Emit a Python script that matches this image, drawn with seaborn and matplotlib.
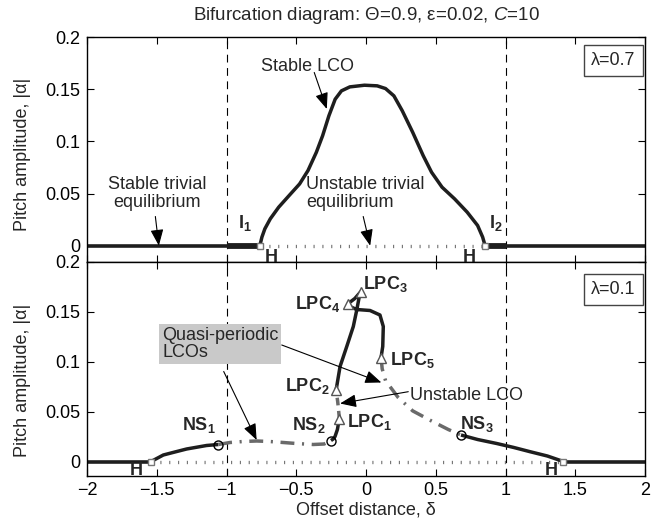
import matplotlib
matplotlib.use('Agg')
import matplotlib.pyplot as plt
import seaborn as sns

sns.set_style('ticks')
plt.rcParams['font.family'] = ['Liberation Sans', 'DejaVu Sans']
plt.rcParams['mathtext.fontset'] = 'custom'
plt.rcParams['mathtext.rm'] = 'Liberation Sans'
plt.rcParams['mathtext.it'] = 'Liberation Sans:italic'
plt.rcParams['mathtext.bf'] = 'Liberation Sans:bold'

# ---- top panel (lambda = 0.7) ----
top_stable_left = [-2.0, -0.761]
top_thick_left = [-1.0, -0.761]
top_stable_right = [0.854, 2.0]
top_thick_right = [0.854, 1.0]
top_unstable_trivial = [-0.761, 0.854]
top_hopf = [-0.761, 0.854]

lco_delta = [-0.761, -0.746, -0.725, -0.686, -0.626, -0.551, -0.476, -0.416, -0.356,
             -0.311, -0.266, -0.221, -0.176, -0.116, -0.011, 0.080, 0.140, 0.200,
             0.260, 0.335, 0.410, 0.470, 0.545, 0.635, 0.725, 0.800, 0.836, 0.854]
lco_amp = [0.000, 0.0083, 0.0162, 0.0258, 0.0369, 0.0481, 0.0592, 0.0720, 0.0895,
           0.1054, 0.1245, 0.1404, 0.1484, 0.1522, 0.1538, 0.1532, 0.1506, 0.1436,
           0.1293, 0.1086, 0.0863, 0.0704, 0.0561, 0.0449, 0.0322, 0.0194, 0.0083, 0.000]

# ---- bottom panel (lambda = 0.1) ----
bot_stable_left = [-2.0, -1.541]
bot_stable_right = [1.415, 2.0]
bot_unstable_trivial = [-1.541, 1.415]
bot_hopf = [-1.541, 1.415]

ns1_delta = [-1.541, -1.500, -1.453, -1.370, -1.286, -1.143, -1.059]
ns1_amp = [0.000, 0.003, 0.0065, 0.0095, 0.0125, 0.016, 0.017]

quasi_delta = [-1.059, -0.975, -0.880, -0.784, -0.690, -0.593, -0.500, -0.378, -0.300, -0.251]
quasi_amp = [0.017, 0.019, 0.020, 0.0205, 0.020, 0.019, 0.018, 0.017, 0.0175, 0.021]

ns2_delta = [-0.251, -0.235, -0.222, -0.205, -0.191]
ns2_amp = [0.021, 0.0225, 0.025, 0.032, 0.043]

lpc12_delta = [-0.191, -0.197, -0.203, -0.210, -0.215]
lpc12_amp = [0.043, 0.052, 0.060, 0.067, 0.0715]

upper_delta = [-0.215, -0.210, -0.186, -0.138, -0.091, -0.067, -0.048, -0.036,
               -0.080, -0.127, -0.115, -0.067, 0.029, 0.100, 0.124, 0.120, 0.108]
upper_amp = [0.0715, 0.075, 0.095, 0.115, 0.135, 0.151, 0.165, 0.170,
             0.163, 0.158, 0.155, 0.152, 0.151, 0.1465, 0.135, 0.115, 0.104]

unst_delta = [0.108, 0.116, 0.140, 0.185, 0.230, 0.335, 0.470, 0.590, 0.681]
unst_amp = [0.104, 0.0927, 0.0809, 0.0725, 0.0641, 0.0506, 0.0405, 0.032, 0.0265]

ns3_delta = [0.681, 0.800, 0.937, 1.060, 1.176, 1.300, 1.415]
ns3_amp = [0.0265, 0.022, 0.018, 0.014, 0.0098, 0.0055, 0.000]

ns_delta = [-1.059, -0.251, 0.681]
ns_amp = [0.017, 0.021, 0.0265]
lpc_delta = [-0.191, -0.215, -0.036, -0.127, 0.108]
lpc_amp = [0.043, 0.0715, 0.170, 0.158, 0.104]

xticks = [-2, -1.5, -1, -0.5, 0, 0.5, 1, 1.5, 2]
xticklabels = ['\u22122', '\u22121.5', '\u22121', '\u22120.5', '0', '0.5', '1', '1.5', '2']
yticks = [0, 0.05, 0.1, 0.15, 0.2]
yticklabels = ['0', '0.05', '0.1', '0.15', '0.2']

BLACK = '#1e1e1e'
GRAY = '#6a6a6a'
FS = 13
BFS = 13
arrow_kw = dict(arrowstyle='-|>,head_length=0.55,head_width=0.22', color='black',
                lw=0.8, mutation_scale=18, shrinkA=0, shrinkB=0)


def curve(ax, d, a, color=BLACK, lw=2.3, ls='-'):
    sns.lineplot(x=d, y=a, ax=ax, sort=False, estimator=None, color=color,
                 lw=lw, linestyle=ls, solid_capstyle='butt')


def style_axes(ax, ylim):
    ax.set_xlim(-2, 2)
    ax.set_ylim(*ylim)
    ax.set_xticks(xticks)
    ax.set_yticks(yticks)
    ax.set_yticklabels(yticklabels, fontsize=FS)
    ax.tick_params(direction='in', top=True, right=True, length=5, width=0.8, pad=5,
                   colors='black')
    for s in ax.spines.values():
        s.set_visible(True)
        s.set_linewidth(1.0)
        s.set_color('black')
    for xv in (-1, 1):
        ax.axvline(xv, color='black', lw=0.8, linestyle=(0, (7, 5)), zorder=1)
    ax.set_ylabel('Pitch amplitude, |\u03b1|', fontsize=FS)


fig = plt.figure(figsize=(6.56, 5.25), dpi=100)
ax1 = fig.add_axes([87 / 656, 1 - 262 / 525, 558 / 656, 225 / 525])
ax2 = fig.add_axes([87 / 656, 1 - 475.5 / 525, 558 / 656, 214 / 525])

# ---------- top panel ----------
style_axes(ax1, (-0.0156, 0.2))
ax1.set_xticklabels([])
dot_ls = (0, (0.35, 2.3))
curve(ax1, top_unstable_trivial, [0, 0], color='#777777', lw=2.4, ls=dot_ls)
curve(ax1, top_stable_left, [0, 0], lw=2.6)
curve(ax1, top_stable_right, [0, 0], lw=2.6)
curve(ax1, top_thick_left, [0, 0], lw=4.2)
curve(ax1, top_thick_right, [0, 0], lw=4.2)
curve(ax1, lco_delta, lco_amp, lw=2.5)
ax1.plot(top_hopf, [0, 0], 's', ms=5, mfc='white', mec='#777777', mew=1.0, zorder=6)

ax1.text(-0.42, 0.172, 'Stable LCO', fontsize=FS, ha='center', va='center')
ax1.annotate('', xy=(-0.281, 0.131), xytext=(-0.371, 0.166), arrowprops=arrow_kw)
ax1.text(-1.50, 0.05, 'Stable trivial\nequilibrium', fontsize=FS, ha='center',
         va='center', multialignment='center', linespacing=1.05)
ax1.annotate('', xy=(-1.485, 0.0), xytext=(-1.51, 0.028), arrowprops=arrow_kw)
ax1.text(-0.43, 0.05, 'Unstable trivial\nequilibrium', fontsize=FS, ha='left',
         va='center', linespacing=1.05)
ax1.annotate('', xy=(0.03, 0.0), xytext=(-0.02, 0.028), arrowprops=arrow_kw)
ax1.text(-0.915, 0.017, r'$\mathbf{I}_\mathbf{1}$', fontsize=BFS, ha='left', va='baseline')
ax1.text(0.88, 0.017, r'$\mathbf{I}_\mathbf{2}$', fontsize=BFS, ha='left', va='baseline')
ax1.text(-0.676, -0.0153, 'H', fontsize=BFS, fontweight='bold', ha='center', va='baseline')
ax1.text(0.74, -0.0153, 'H', fontsize=BFS, fontweight='bold', ha='center', va='baseline')
ax1.text(0.943, 0.895, '\u03bb=0.7', transform=ax1.transAxes, fontsize=FS,
         ha='center', va='center',
         bbox=dict(boxstyle='square,pad=0.4', fc='white', ec='#444444', lw=1.0))

# ---------- bottom panel ----------
style_axes(ax2, (-0.014, 0.2))
ax2.set_xticklabels(xticklabels, fontsize=FS)
ax2.set_xlabel('Offset distance, \u03b4', fontsize=FS)
ax2.xaxis.set_label_coords(0.5, -0.12)

curve(ax2, bot_unstable_trivial, [0, 0], color='#777777', lw=2.4, ls=dot_ls)
curve(ax2, bot_stable_left, [0, 0], lw=2.6)
curve(ax2, bot_stable_right, [0, 0], lw=2.6)
curve(ax2, ns1_delta, ns1_amp, lw=2.5)
curve(ax2, quasi_delta, quasi_amp, color=GRAY, lw=2.5, ls=(0, (4, 2.2, 0.6, 2.2)))
curve(ax2, ns2_delta, ns2_amp, lw=2.5)
curve(ax2, lpc12_delta, lpc12_amp, color=GRAY, lw=2.5, ls=(0, (2.2, 1.6)))
curve(ax2, upper_delta, upper_amp, lw=2.5)
curve(ax2, unst_delta, unst_amp, color=GRAY, lw=2.5, ls=(0, (4, 2.2, 0.6, 2.2)))
curve(ax2, ns3_delta, ns3_amp, lw=2.5)

ax2.plot(bot_hopf, [0, 0], 's', ms=5, mfc='white', mec='#777777', mew=1.0, zorder=6)
ax2.plot(ns_delta, ns_amp, 'o', ms=6.5, mfc='none', mec='black', mew=1.0, zorder=6)
ax2.plot(lpc_delta, lpc_amp, '^', ms=6.5, mfc='white', mec='#555555', mew=1.0, zorder=6)

ax2.text(-1.644, -0.0135, 'H', fontsize=BFS, fontweight='bold', ha='center', va='baseline')
ax2.text(1.331, -0.0135, 'H', fontsize=BFS, fontweight='bold', ha='center', va='baseline')
lab = dict(fontsize=BFS, ha='left', va='baseline')
ax2.text(-1.321, 0.0315, r'$\mathbf{NS}_\mathbf{1}$', **lab)
ax2.text(-0.533, 0.0315, r'$\mathbf{NS}_\mathbf{2}$', **lab)
ax2.text(0.674, 0.033, r'$\mathbf{NS}_\mathbf{3}$', **lab)
ax2.text(-0.138, 0.035, r'$\mathbf{LPC}_\mathbf{1}$', **lab)
ax2.text(-0.581, 0.070, r'$\mathbf{LPC}_\mathbf{2}$', **lab)
ax2.text(-0.024, 0.173, r'$\mathbf{LPC}_\mathbf{3}$', **lab)
ax2.text(-0.509, 0.153, r'$\mathbf{LPC}_\mathbf{4}$', **lab)
ax2.text(0.172, 0.0965, r'$\mathbf{LPC}_\mathbf{5}$', **lab)

ax2.text(0.315, 0.0615, 'Unstable LCO', fontsize=FS, ha='left', va='baseline')
ax2.annotate('', xy=(-0.186, 0.058), xytext=(0.303, 0.0698), arrowprops=arrow_kw)
ax2.text(-1.462, 0.1175, 'Quasi-periodic\nLCOs', fontsize=FS, ha='left', va='center',
         linespacing=1.05,
         bbox=dict(boxstyle='square,pad=0.15', fc='#c9c9c9', ec='none'))
ax2.annotate('', xy=(0.11, 0.079), xytext=(-0.604, 0.1165), arrowprops=arrow_kw)
ax2.annotate('', xy=(-0.784, 0.0215), xytext=(-1.02, 0.09), arrowprops=arrow_kw)
ax2.text(0.943, 0.869, '\u03bb=0.1', transform=ax2.transAxes, fontsize=FS,
         ha='center', va='center',
         bbox=dict(boxstyle='square,pad=0.4', fc='white', ec='#444444', lw=1.0))

for ax, yc in ((ax1, 0.48), (ax2, 0.445)):
    ax.yaxis.set_label_coords(-0.10, yc)

fig.text(366 / 656, 1 - 15 / 525, 'Bifurcation diagram: \u0398=0.9, \u03b5=0.02, $\\mathit{C}$=10',
         fontsize=13.5, ha='center', va='center')

fig.savefig('out.png', dpi=100)
plt.close(fig)
